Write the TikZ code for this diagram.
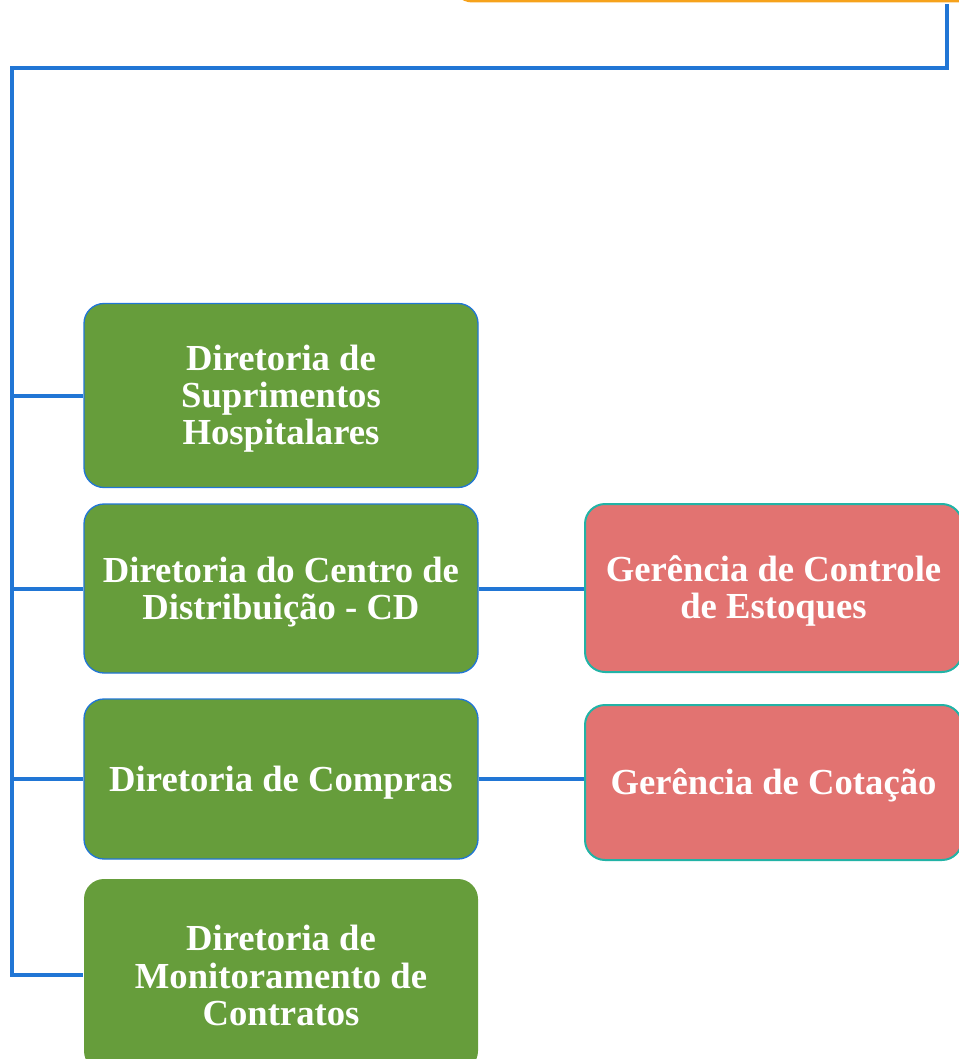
\documentclass[tikz,border=0pt]{standalone}
\usepackage{fontspec}
\setmainfont{Liberation Serif}

\definecolor{dirgreen}{HTML}{669D3B}
\definecolor{gerred}{HTML}{E27371}
\definecolor{linkblue}{HTML}{2176D5}
\definecolor{gerteal}{HTML}{22B3A6}
\definecolor{toporange}{HTML}{F6A21B}

\newcommand{\topstrut}{\rule{0pt}{24pt}}
\newcommand{\botstrut}{\rule[-4.5pt]{0pt}{4.5pt}}

\begin{document}
\begin{tikzpicture}[x=0.75pt, y=-0.75pt,
  link/.style={draw=linkblue, line width=3pt},
  dir/.style={draw=linkblue, line width=1pt, fill=dirgreen, rounded corners=15pt,
    minimum width=295.5pt, inner sep=0pt, text=white, align=center,
    font=\bfseries\fontsize{27.5}{28}\selectfont},
  ger/.style={draw=gerteal, line width=1.5pt, fill=gerred, rounded corners=15pt,
    minimum width=282.75pt, inner sep=0pt, text=white, align=center,
    font=\bfseries\fontsize{27.5}{28}\selectfont}]
%\draw [help lines, step=100] (0,0) grid (959,1059);
\useasboundingbox (0,0) rectangle (959,1059);

\coordinate (drop) at (947,68);
\coordinate (bus) at (12,68);

% directorias
\node [dir, minimum height=138pt] (d1) at (281,395.5) {\topstrut Diretoria de\\Suprimentos\\Hospitalares\botstrut};
\node [dir, minimum height=126.75pt] (d2) at (281,588.5) {\topstrut Diretoria do Centro de\\Distribuição - CD\botstrut};
\node [dir, minimum height=120pt] (d3) at (281,779) {\topstrut Diretoria de Compras\botstrut};
\node [dir, draw=none, minimum height=144pt] (d4) at (281,975) {\topstrut Diretoria de\\Monitoramento de\\Contratos\botstrut};

% gerencias
\node [ger, minimum height=126pt] (g1) at (773.5,588) {\topstrut Gerência de Controle\\de Estoques\botstrut};
\node [ger, minimum height=116.25pt] (g2) at (773.5,782.5) {\topstrut Gerência de Cotação\botstrut};

% top box, mostly cut off
\node [draw=toporange, line width=2.25pt, fill=white, rounded corners=15pt,
  minimum width=450pt, minimum height=80pt, anchor=south west] (top) at (451,2.5) {};

\draw [link] (top.south -| drop) ++(0,2) -- (drop) -- (bus) |- (d4.west);
\foreach \n in {d1,d2,d3}
  \draw [link] (bus |- \n.west) -- (\n.west);

\draw [link] (d2.east) -- (d2.east -| g1.west);
\draw [link] (d3.east) -- (d3.east -| g2.west);

\end{tikzpicture}
\end{document}
